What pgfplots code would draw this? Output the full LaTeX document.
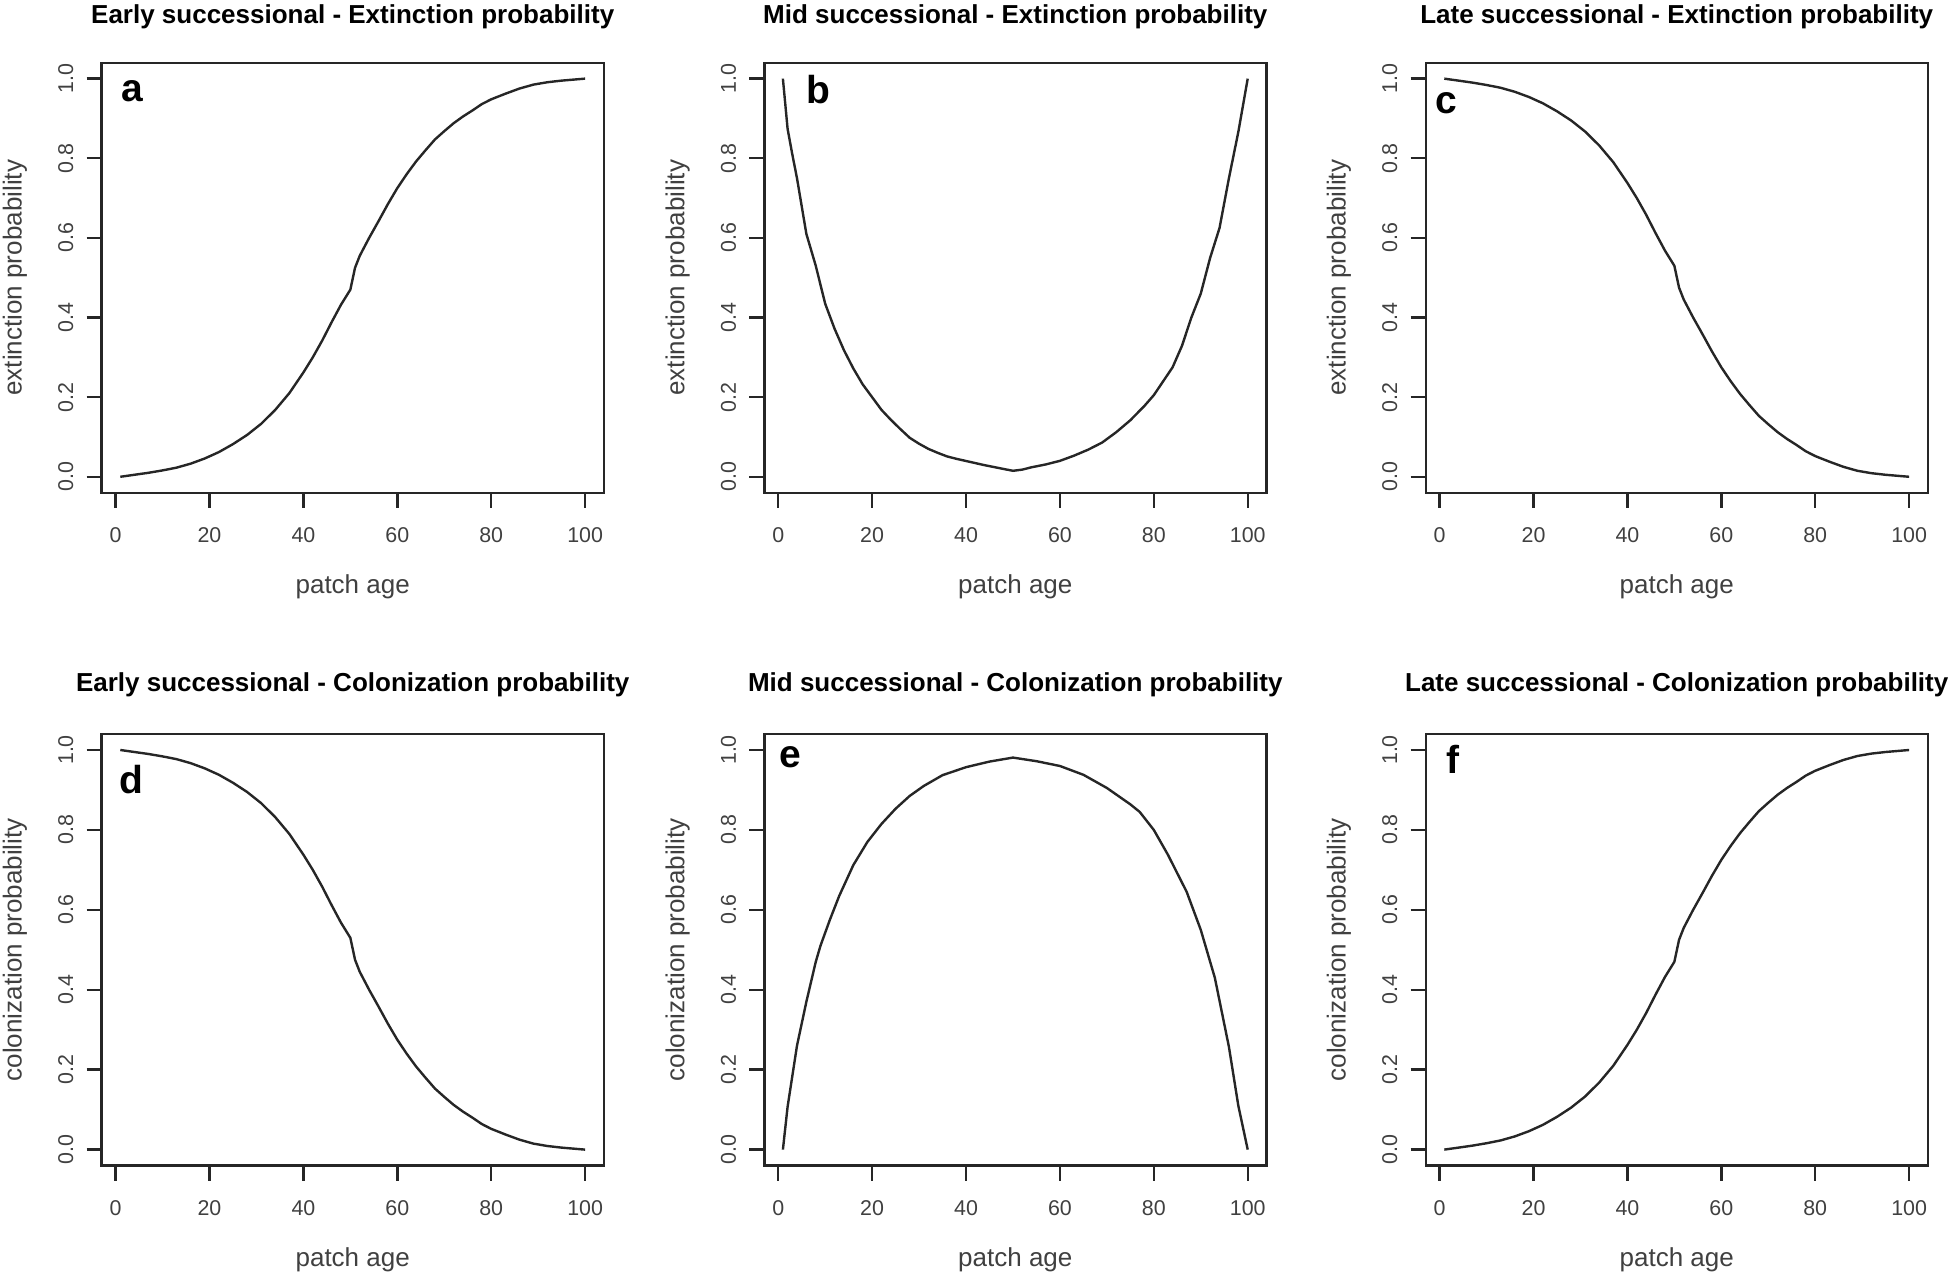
\documentclass[border=0pt]{standalone}
\usepackage{fontspec}
\setmainfont{Liberation Sans}
\usepackage{pgfplots}
\usepackage{pgfplotstable}
\pgfplotsset{compat=1.18}

% increasing logistic-like curve (panels a, f)
\pgfplotstableread{
x y
1 0.000
4 0.005
7 0.010
10 0.016
13 0.023
16 0.033
19 0.046
22 0.062
25 0.082
28 0.105
31 0.133
34 0.168
37 0.210
40 0.262
42 0.300
44 0.342
46 0.388
48 0.432
50 0.470
51 0.525
52 0.555
54 0.600
56 0.642
58 0.685
60 0.725
62 0.760
64 0.792
66 0.820
68 0.847
70 0.868
72 0.888
74 0.905
76 0.920
78 0.936
80 0.948
83 0.962
86 0.975
89 0.985
92 0.991
95 0.995
98 0.998
100 1.000
}\incdata

% decreasing curve (panels c, d)
\pgfplotstableread{
x y
1 1.000
4 0.995
7 0.990
10 0.984
13 0.977
16 0.967
19 0.954
22 0.938
25 0.918
28 0.895
31 0.867
34 0.832
37 0.790
40 0.738
42 0.700
44 0.658
46 0.612
48 0.568
50 0.530
51 0.475
52 0.445
54 0.400
56 0.358
58 0.315
60 0.275
62 0.240
64 0.208
66 0.180
68 0.153
70 0.132
72 0.112
74 0.095
76 0.080
78 0.064
80 0.052
83 0.038
86 0.025
89 0.015
92 0.009
95 0.005
98 0.002
100 0.000
}\decdata

% U-shaped curve (panel b)
\pgfplotstableread{
x y
1 1.000
2 0.874
3 0.810
4 0.750
5 0.680
6 0.610
8 0.530
10 0.435
12 0.372
14 0.318
16 0.272
18 0.232
20 0.200
22 0.168
24 0.143
26 0.120
28 0.098
30 0.083
32 0.070
34 0.060
36 0.051
38 0.045
41 0.037
44 0.029
47 0.022
50 0.015
52 0.018
54 0.024
57 0.031
60 0.040
63 0.053
66 0.068
69 0.086
72 0.112
75 0.142
78 0.178
80 0.205
82 0.240
84 0.275
86 0.329
88 0.400
90 0.460
92 0.550
94 0.625
96 0.750
98 0.866
100 1.000
}\udata

% hump-shaped curve (panel e)
\pgfplotstableread{
x y
1 0.000
2 0.107
4 0.260
6 0.370
8 0.470
9 0.510
11 0.575
13 0.635
16 0.712
19 0.770
22 0.815
25 0.853
28 0.885
31 0.910
35 0.937
40 0.957
45 0.971
50 0.981
55 0.972
60 0.960
65 0.938
70 0.905
75 0.864
77 0.845
80 0.800
83 0.738
87 0.645
90 0.550
93 0.430
96 0.257
98 0.110
100 0.000
}\humpdata

\pgfplotsset{
  every axis title shift=0pt,
  panel/.style={
    scale only axis, width=251pt, height=215pt,
    xmin=-2.96, xmax=103.96, ymin=-0.04, ymax=1.04,
    xtick={0,20,40,60,80,100}, ytick={0,0.2,0.4,0.6,0.8,1},
    tick align=outside, major tick length=7.5pt,
    xtick pos=left, ytick pos=left,
    axis line style={line width=1.2pt, black!85},
    every tick/.style={line width=1.2pt, black!85},
    /pgf/number format/assume math mode=true,
    tick label style={font=\fontsize{10.7}{12}\selectfont, text=black!75},
    y tick label style={/pgf/number format/fixed, /pgf/number format/fixed zerofill, /pgf/number format/precision=1, xshift=-3.1pt, rotate=90, anchor=south},
    x tick label style={yshift=-6.2pt},
    label style={font=\fontsize{13}{15}\selectfont, text=black!75},
    xlabel={patch age},
    xlabel style={at={(axis description cs:0.5,-0.2195)}, anchor=center},
    ylabel style={at={(axis description cs:-0.1727,0.5)}, anchor=center},
    title style={font=\bfseries\fontsize{13}{15}\selectfont, at={(axis description cs:0.5,1.0907)}, anchor=base},
  },
  row2/.style={height=215.8pt,
    xlabel style={at={(axis description cs:0.5,-0.2187)}},
    title style={at={(axis description cs:0.5,1.0996)}}},
  curve/.style={line width=1.2pt, black!85, no markers},
}
\tikzset{letter/.style={anchor=base west, inner sep=0pt, font=\bfseries\fontsize{19.5}{20}\selectfont}}

\begin{document}
\begin{tikzpicture}
\useasboundingbox (0pt,0pt) rectangle (980pt,-637pt);

% a
\begin{axis}[panel, at={(50.85pt,-31.35pt)}, anchor=north west,
  title={Early successional - Extinction probability}, ylabel={extinction probability}]
\addplot[curve] table[x=x,y=y] {\incdata};
\node[letter] at (rel axis cs:0.0384,0.9093) {a};
\end{axis}

% b
\begin{axis}[panel, at={(382.15pt,-31.35pt)}, anchor=north west,
  title={Mid successional - Extinction probability}, ylabel={extinction probability}]
\addplot[curve] table[x=x,y=y] {\udata};
\node[letter] at (rel axis cs:0.0831,0.9056) {b};
\end{axis}

% c
\begin{axis}[panel, at={(712.85pt,-31.35pt)}, anchor=north west,
  title={Late successional - Extinction probability}, ylabel={extinction probability}]
\addplot[curve] table[x=x,y=y] {\decdata};
\node[letter] at (rel axis cs:0.0191,0.8823) {c};
\end{axis}

% d
\begin{axis}[panel, row2, at={(50.85pt,-367pt)}, anchor=north west,
  title={Early successional - Colonization probability}, ylabel={colonization probability}]
\addplot[curve] table[x=x,y=y] {\decdata};
\node[letter] at (rel axis cs:0.0351,0.8626) {d};
\end{axis}

% e
\begin{axis}[panel, row2, at={(382.15pt,-367pt)}, anchor=north west,
  title={Mid successional - Colonization probability}, ylabel={colonization probability}]
\addplot[curve] table[x=x,y=y] {\humpdata};
\node[letter] at (rel axis cs:0.0291,0.9222) {e};
\end{axis}

% f
\begin{axis}[panel, row2, at={(712.85pt,-367pt)}, anchor=north west,
  title={Late successional - Colonization probability}, ylabel={colonization probability}]
\addplot[curve] table[x=x,y=y] {\incdata};
\node[letter] at (rel axis cs:0.0408,0.9083) {f};
\end{axis}
\end{tikzpicture}
\end{document}
